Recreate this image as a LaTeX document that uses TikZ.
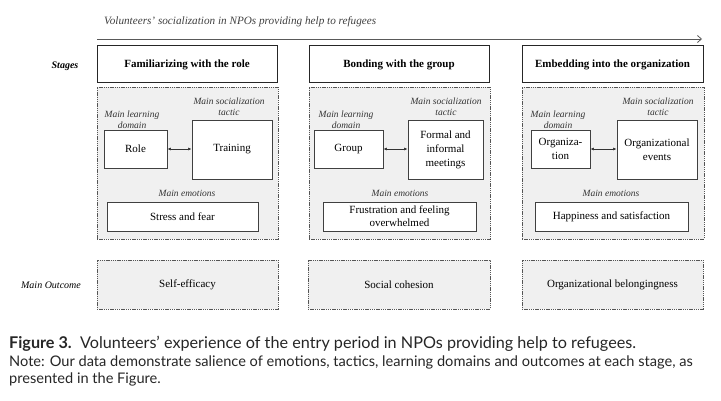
\documentclass[tikz,border=0pt]{standalone}
\usepackage{fontspec}
\setmainfont{Liberation Serif}
\newfontfamily\capfont{Lato}
\usetikzlibrary{arrows.meta}
\definecolor{panelgray}{HTML}{F0F0F0}
\definecolor{edgegray}{HTML}{555555}
\tikzset{
  stagebox/.style={draw=black!85, line width=1pt, fill=white, inner sep=0pt, font=\fontsize{11}{13}\selectfont\bfseries},
  panel/.style={draw=edgegray, line width=0.9pt, dash pattern=on 1.4pt off 0.8pt, fill=panelgray, inner sep=0pt},
  innerbox/.style={draw=black!75, line width=0.9pt, fill=white, inner sep=0pt, align=center, font=\fontsize{11}{14}\selectfont},
  smalllabel/.style={inner sep=0pt, align=center, font=\fontsize{9.5}{11.5}\selectfont\itshape, text=black!80},
  sidelabel/.style={inner sep=0pt, font=\fontsize{10}{12}\selectfont\itshape},
  outcome/.style={panel, font=\fontsize{11}{13}\selectfont},
  twoway/.style={{Latex[length=3.5pt,width=3pt]}-{Latex[length=3.5pt,width=3pt]}, line width=0.6pt, black!80},
  captext/.style={anchor=base west, inner sep=0pt, text=black!85},
}
\begin{document}
\begin{tikzpicture}[x=1pt,y=-1pt]
\useasboundingbox (0,0) rectangle (721,401);
% title and timeline arrow
\node[anchor=west, inner sep=0pt, font=\fontsize{11.2}{13}\selectfont\itshape, text=black!75] (title) at (104,21.5) {Volunteers' socialization in NPOs providing help to refugees};
\coordinate (tlstart) at (97,39);
\coordinate (tlend) at (702,39);
\draw[black!65, line width=0.8pt, -{Straight Barb[length=4pt,width=7pt]}] (tlstart) -- (tlend);
% side labels
\node[sidelabel, font=\fontsize{10}{12}\selectfont\bfseries\itshape] (stages) at (65,66) {Stages};
\node[sidelabel] (outlabel) at (51,285) {Main Outcome};
% stage boxes
\node[stagebox, minimum width=180, minimum height=37] (s1) at (187,64.5) {Familiarizing with the role};
\node[stagebox, minimum width=180, minimum height=37] (s2) at (399,64.5) {Bonding with the group};
\node[stagebox, minimum width=181, minimum height=37] (s3) at (612.5,64.5) {Embedding into the organization};
% panels
\node[panel, minimum width=181, minimum height=152] (p1) at (187.5,163) {};
\node[panel, minimum width=181, minimum height=152] (p2) at (399.5,163) {};
\node[panel, minimum width=182, minimum height=152] (p3) at (613,163) {};
% labels in panels
\node[smalllabel] (ld1) at (132,120) {Main learning\\domain};
\node[smalllabel] (ld2) at (346,120) {Main learning\\domain};
\node[smalllabel] (ld3) at (558,120) {Main learning\\domain};
\node[smalllabel] (st1) at (229,107) {Main socialization\\tactic};
\node[smalllabel] (st2) at (446,107) {Main socialization\\tactic};
\node[smalllabel] (st3) at (658,107) {Main socialization\\tactic};
\node[smalllabel] (me1) at (187,193) {Main emotions};
\node[smalllabel] (me2) at (400,193) {Main emotions};
\node[smalllabel] (me3) at (611,193) {Main emotions};
% domain boxes
\node[innerbox, minimum width=63, minimum height=38] (d1) at (135.5,149) {Role};
\node[innerbox, minimum width=69, minimum height=38] (d2) at (348.5,149) {Group};
\node[innerbox, minimum width=59, minimum height=38] (d3) at (560.5,149) {Organiza-\\tion};
% tactic boxes
\node[innerbox, minimum width=80, minimum height=59] (t1) at (232,149.5) {Training};
\node[innerbox, minimum width=75, minimum height=59] (t2) at (445.5,149.5) {Formal and\\informal\\meetings};
\node[innerbox, minimum width=80, minimum height=59] (t3) at (657,149.5) {Organizational\\events};
% emotion boxes
\node[innerbox, minimum width=151, minimum height=29] (e1) at (182.5,216.5) {Stress and fear};
\node[innerbox, minimum width=153, minimum height=29, font=\fontsize{11}{13}\selectfont] (e2) at (399.5,216.5) {Frustration and feeling\\overwhelmed};
\node[innerbox, minimum width=153, minimum height=29] (e3) at (611.5,216.5) {Happiness and satisfaction};
% arrows
\draw[twoway] (d1.east) -- (d1.east -| t1.west);
\draw[twoway] (d2.east) -- (d2.east -| t2.west);
\draw[twoway] (d3.east) -- (d3.east -| t3.west);
% outcomes
\node[outcome, minimum width=181, minimum height=49] (o1) at (187.5,284.5) {Self-efficacy};
\node[outcome, minimum width=182, minimum height=49] (o2) at (399,284.5) {Social cohesion};
\node[outcome, minimum width=181, minimum height=49] (o3) at (612.5,284.5) {Organizational belongingness};
% caption
\node[captext, font=\capfont\fontsize{16.2}{18}\selectfont] (cap1) at (9,348) {\textbf{Figure 3.}\ \ Volunteers’ experience of the entry period in NPOs providing help to refugees.};
\node[captext, font=\capfont\fontsize{14.6}{17}\selectfont] (cap2) at (9,366) {Note: Our data demonstrate salience of emotions, tactics, learning domains and outcomes at each stage, as};
\node[captext, font=\capfont\fontsize{14.6}{17}\selectfont] (cap3) at (9,383) {presented in the Figure.};
\end{tikzpicture}
\end{document}
